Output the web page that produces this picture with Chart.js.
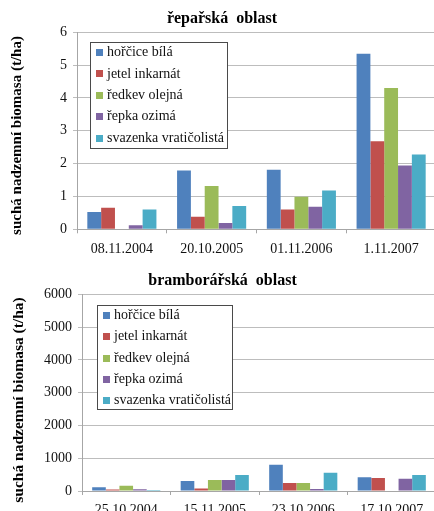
<!DOCTYPE html>
<html>
<head>
<meta charset="utf-8">
<script src="https://cdn.jsdelivr.net/npm/chart.js@4.4.1/dist/chart.umd.min.js"></script>
<style>
  html, body { margin: 0; padding: 0; background: #fff; overflow: hidden; width: 434px; height: 511px; }
  .panel { position: absolute; left: 0; width: 450px; }
  #panelTop { top: 0; height: 260px; }
  #panelBottom { top: 260px; height: 251px; }
  canvas { display: block; }
</style>
</head>
<body>
<div class="panel" id="panelTop"><canvas id="chartTop" width="450" height="260"></canvas></div>
<div class="panel" id="panelBottom"><canvas id="chartBottom" width="450" height="251"></canvas></div>
<script>
// Cover crops and their colours
const cropNames = ['hořčice bílá', 'jetel inkarnát', 'ředkev olejná', 'řepka ozimá', 'svazenka vratičolistá'];
const cropColors = ['#4F81BD', '#C0504D', '#9BBB59', '#8064A2', '#4BACC6'];

// Sugar-beet region (t/ha)
const beetDates = ['08.11.2004', '20.10.2005', '01.11.2006', '1.11.2007'];
const beetHorcice  = [0.53, 1.79, 1.81, 5.35];
const beetJetel    = [0.66, 0.38, 0.60, 2.68];
const beetRedkev   = [0.00, 1.32, 0.99, 4.30];
const beetRepka    = [0.12, 0.19, 0.69, 1.94];
const beetSvazenka = [0.60, 0.71, 1.18, 2.28];
const beetTicks = [0, 1, 2, 3, 4, 5, 6];

// Potato region
const potatoDates = ['25.10.2004', '15.11.2005', '23.10.2006', '17.10.2007'];
const potatoHorcice  = [118, 305, 800, 420];
const potatoJetel    = [45, 80, 245, 400];
const potatoRedkev   = [160, 335, 245, 0];
const potatoRepka    = [55, 335, 60, 375];
const potatoSvazenka = [30, 490, 560, 490];
const potatoTicks = [0, 1000, 2000, 3000, 4000, 5000, 6000];

const SERIF = '"Liberation Serif", "Times New Roman", serif';
const yTitle = 'suchá nadzemní biomasa (t/ha)';

// Framed legend inside the plot area, plus the rotated value-axis caption
const panelDecor = {
  id: 'panelDecor',
  afterDraw(chart, args, o) {
    const ctx = chart.ctx;
    const lg = o.legend;
    ctx.save();
    ctx.fillStyle = '#fff';
    ctx.fillRect(lg.x, lg.y, lg.w, lg.h);
    ctx.strokeStyle = '#4a4a4a';
    ctx.lineWidth = 1;
    ctx.strokeRect(Math.round(lg.x) + 0.5, Math.round(lg.y) + 0.5, Math.round(lg.w), Math.round(lg.h));
    ctx.font = '14px ' + SERIF;
    ctx.textBaseline = 'middle';
    ctx.textAlign = 'left';
    chart.data.datasets.forEach((ds, i) => {
      const cy = lg.firstY + i * lg.step;
      ctx.fillStyle = ds.backgroundColor;
      ctx.fillRect(lg.boxX, Math.round(cy - 3.5), 7, 7);
      ctx.fillStyle = '#111';
      ctx.fillText(ds.label, lg.textX, cy);
    });
    ctx.restore();

    const cap = o.caption;
    ctx.save();
    ctx.translate(cap.x, cap.y);
    ctx.rotate(-Math.PI / 2);
    ctx.font = 'bold ' + cap.size + 'px ' + SERIF;
    ctx.fillStyle = '#000';
    ctx.textAlign = 'center';
    ctx.textBaseline = 'middle';
    ctx.fillText(cap.text, 0, 0);
    ctx.restore();
  }
};

function buildDatasets(series) {
  return series.map((vals, i) => ({
    label: cropNames[i],
    data: vals,
    backgroundColor: cropColors[i],
    borderWidth: 0,
    categoryPercentage: 0.77,
    barPercentage: 1.0
  }));
}

function makeChart(id, spec) {
  return new Chart(document.getElementById(id), {
    type: 'bar',
    data: { labels: spec.labels, datasets: buildDatasets(spec.series) },
    plugins: [panelDecor],
    options: {
      responsive: false,
      animation: false,
      layout: { padding: { left: spec.padLeft, right: 14, top: 0, bottom: 0 } },
      plugins: {
        legend: { display: false },
        tooltip: { enabled: false },
        title: {
          display: true,
          text: spec.title,
          color: '#000',
          font: { family: SERIF, size: 16, weight: 'bold' },
          padding: spec.titlePad
        },
        panelDecor: { legend: spec.legend, caption: spec.caption }
      },
      scales: {
        x: {
          offset: true,
          grid: { display: true, offset: true, drawOnChartArea: false, drawTicks: true, tickLength: 4, color: '#a6a6a6' },
          border: { display: true, color: '#a6a6a6' },
          ticks: { color: '#111', font: { family: SERIF, size: 14 }, padding: spec.xPad, maxRotation: 0, autoSkip: false },
          afterFit(scale) { scale.height = spec.xHeight; }
        },
        y: {
          min: 0,
          max: spec.ticks[spec.ticks.length - 1],
          afterBuildTicks(scale) { scale.ticks = spec.ticks.map(v => ({ value: v })); },
          grid: { color: '#bdbdbd', tickLength: 4, drawTicks: true },
          border: { display: true, color: '#a6a6a6' },
          ticks: { color: '#111', font: { family: SERIF, size: 14 }, padding: 6, callback: v => String(v) },
          afterFit(scale) { scale.width = spec.yWidth; }
        }
      }
    }
  });
}

makeChart('chartTop', {
  title: 'řepařská  oblast',
  labels: beetDates,
  series: [beetHorcice, beetJetel, beetRedkev, beetRepka, beetSvazenka],
  ticks: beetTicks,
  titlePad: { top: 9.4, bottom: 3.7 },
  padLeft: 8,
  xHeight: 30.7,
  xPad: 8,
  yWidth: 69,
  caption: { text: yTitle, x: 17.5, y: 135.5, size: 15 },
  legend: { x: 90, y: 42, w: 137, h: 106, boxX: 96, textX: 107, firstY: 52.5, step: 21.4 }
});

makeChart('chartBottom', {
  title: 'bramborářská  oblast',
  labels: potatoDates,
  series: [potatoHorcice, potatoJetel, potatoRedkev, potatoRepka, potatoSvazenka],
  ticks: potatoTicks,
  titlePad: { top: 11.2, bottom: 3.9 },
  padLeft: 9,
  xHeight: 20,
  xPad: 7,
  yWidth: 73,
  caption: { text: yTitle, x: 19, y: 140, size: 15.5 },
  legend: { x: 97, y: 45, w: 135, h: 104, boxX: 103, textX: 114, firstY: 55.5, step: 21.25 }
});
</script>
</body>
</html>
